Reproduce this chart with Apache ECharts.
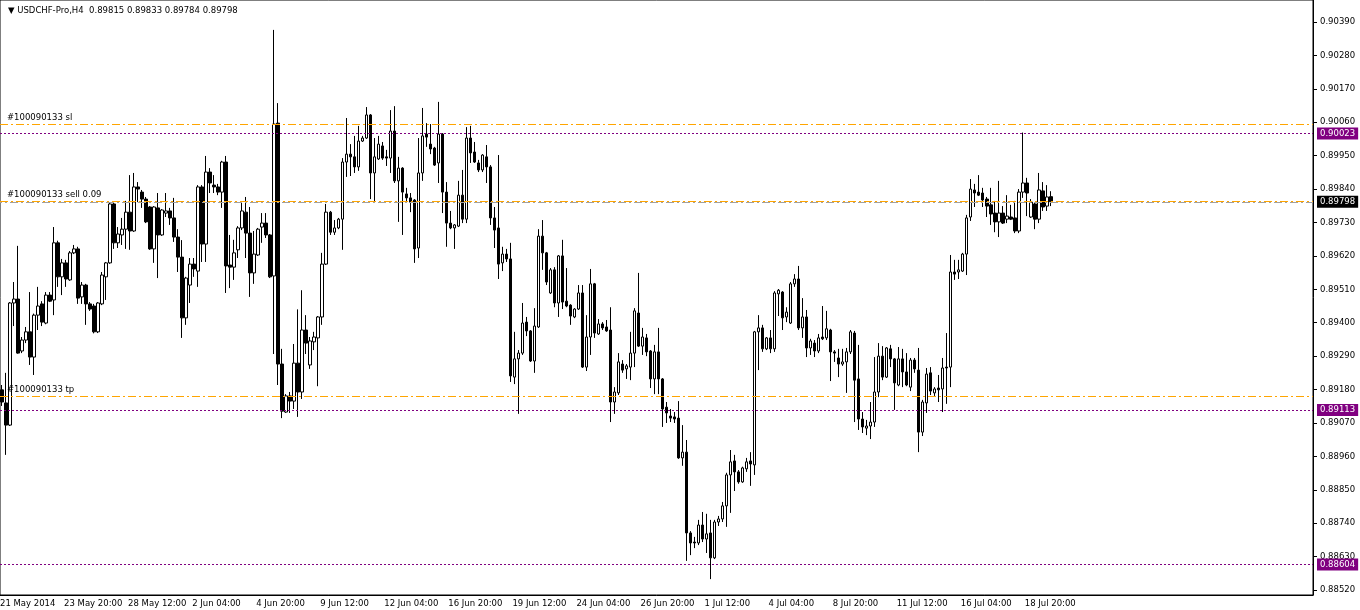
<!DOCTYPE html>
<html><head><meta charset="utf-8">
<script src="https://cdn.jsdelivr.net/npm/echarts@6/dist/echarts.min.js"></script>
<style>html,body{margin:0;padding:0;background:#fff}#c{width:1360px;height:610px}</style>
</head><body><div id="c"></div>
<script>
const symbolName = 'USDCHF-Pro,H4';
const tickLabels = ['21 May 2014','23 May 20:00','28 May 12:00','2 Jun 04:00','4 Jun 20:00','9 Jun 12:00','12 Jun 04:00','16 Jun 20:00','19 Jun 12:00','24 Jun 04:00','26 Jun 20:00','1 Jul 12:00','4 Jul 04:00','8 Jul 20:00','11 Jul 12:00','16 Jul 04:00','18 Jul 20:00'];
const priceTicks = [0.88520,0.88630,0.88740,0.88850,0.88960,0.89070,0.89180,0.89290,0.89400,0.89510,0.89620,0.89730,0.89840,0.89950,0.90060,0.90170,0.90280,0.90390];
// [open, close, low, high]
const candles = [
[0.89179,0.89139,0.89126,0.89195],[0.89136,0.89063,0.88965,0.89235],[0.89063,0.89465,0.89060,0.89468],[0.89465,0.89478,0.89389,0.89534],
[0.89478,0.89300,0.89298,0.89653],[0.89307,0.89343,0.89300,0.89353],[0.89343,0.89370,0.89333,0.89386],[0.89370,0.89287,0.89261,0.89501],
[0.89287,0.89425,0.89228,0.89430],[0.89425,0.89455,0.89376,0.89518],[0.89462,0.89402,0.89389,0.89471],[0.89399,0.89491,0.89395,0.89501],
[0.89491,0.89471,0.89468,0.89501],[0.89475,0.89663,0.89425,0.89715],[0.89663,0.89551,0.89518,0.89670],[0.89551,0.89597,0.89491,0.89610],
[0.89597,0.89544,0.89518,0.89607],[0.89541,0.89630,0.89538,0.89636],[0.89630,0.89643,0.89626,0.89656],[0.89643,0.89481,0.89462,0.89650],
[0.89485,0.89524,0.89462,0.89534],[0.89524,0.89462,0.89393,0.89528],[0.89462,0.89445,0.89439,0.89468],[0.89455,0.89370,0.89365,0.89462],
[0.89370,0.89465,0.89366,0.89468],[0.89462,0.89557,0.89458,0.89567],[0.89551,0.89597,0.89475,0.89600],[0.89597,0.89791,0.89594,0.89797],
[0.89791,0.89663,0.89643,0.89797],[0.89663,0.89692,0.89646,0.89715],[0.89689,0.89708,0.89656,0.89745],[0.89708,0.89764,0.89643,0.89801],
[0.89764,0.89702,0.89640,0.89886],[0.89702,0.89847,0.89699,0.89893],[0.89847,0.89840,0.89797,0.89863],[0.89830,0.89807,0.89778,0.89837],
[0.89807,0.89732,0.89728,0.89814],[0.89781,0.89643,0.89640,0.89784],[0.89643,0.89781,0.89597,0.89784],[0.89778,0.89689,0.89547,0.89827],
[0.89689,0.89771,0.89686,0.89774],[0.89761,0.89768,0.89748,0.89827],[0.89768,0.89745,0.89722,0.89778],[0.89745,0.89682,0.89666,0.89811],
[0.89682,0.89616,0.89567,0.89708],[0.89616,0.89416,0.89350,0.89672],[0.89416,0.89547,0.89393,0.89551],[0.89524,0.89593,0.89465,0.89613],
[0.89593,0.89577,0.89551,0.89613],[0.89570,0.89847,0.89518,0.89853],[0.89847,0.89659,0.89600,0.89853],[0.89659,0.89896,0.89600,0.89949],
[0.89896,0.89860,0.89827,0.89909],[0.89853,0.89847,0.89827,0.89886],[0.89847,0.89830,0.89820,0.89857],[0.89830,0.89929,0.89778,0.89933],
[0.89929,0.89587,0.89498,0.89949],[0.89590,0.89583,0.89514,0.89689],[0.89583,0.89630,0.89541,0.89673],[0.89640,0.89712,0.89613,0.89718],
[0.89712,0.89768,0.89705,0.89797],[0.89764,0.89695,0.89613,0.89814],[0.89695,0.89564,0.89485,0.89781],[0.89564,0.89626,0.89528,0.89702],
[0.89623,0.89708,0.89620,0.89712],[0.89715,0.89728,0.89663,0.89761],[0.89728,0.89689,0.89679,0.89761],[0.89689,0.89551,0.89547,0.89692],
[0.89554,0.90054,0.89297,0.90364],[0.90057,0.89264,0.89195,0.90123],[0.89264,0.89109,0.89086,0.89314],[0.89106,0.89159,0.89103,0.89165],
[0.89159,0.89142,0.89103,0.89172],[0.89142,0.89267,0.89116,0.89330],[0.89267,0.89172,0.89090,0.89444],[0.89172,0.89376,0.89149,0.89507],
[0.89376,0.89333,0.89297,0.89425],[0.89261,0.89340,0.89248,0.89353],[0.89337,0.89353,0.89310,0.89370],[0.89350,0.89419,0.89191,0.89422],
[0.89419,0.89593,0.89393,0.89630],[0.89593,0.89764,0.89590,0.89791],[0.89764,0.89698,0.89689,0.89768],[0.89698,0.89712,0.89689,0.89738],
[0.89712,0.89741,0.89708,0.89745],[0.89741,0.89929,0.89640,0.89942],[0.89929,0.89955,0.89880,0.90074],[0.89955,0.89946,0.89883,0.89988],
[0.89946,0.89913,0.89893,0.90015],[0.89913,0.89998,0.89900,0.90048],[0.89998,0.90008,0.89995,0.90015],[0.90008,0.90084,0.90005,0.90110],
[0.90084,0.89893,0.89807,0.90087],[0.89893,0.89946,0.89797,0.90008],[0.89939,0.89988,0.89936,0.90015],[0.89982,0.89942,0.89936,0.89995],
[0.89946,0.89942,0.89916,0.89969],[0.89942,0.90031,0.89893,0.90100],[0.90031,0.89867,0.89860,0.90113],[0.89867,0.89909,0.89732,0.89946],
[0.89909,0.89830,0.89689,0.89912],[0.89824,0.89811,0.89797,0.89844],[0.89811,0.89797,0.89764,0.89827],[0.89804,0.89643,0.89597,0.89807],
[0.89646,0.89893,0.89613,0.90008],[0.89893,0.90015,0.89867,0.90107],[0.90021,0.90011,0.89979,0.90057],[0.89988,0.89972,0.89955,0.90054],
[0.89975,0.89919,0.89916,0.89979],[0.89926,0.90021,0.89860,0.90127],[0.90021,0.89830,0.89761,0.90024],[0.89830,0.89728,0.89650,0.89863],
[0.89728,0.89712,0.89708,0.89768],[0.89712,0.89722,0.89643,0.89725],[0.89718,0.89820,0.89715,0.89867],[0.89820,0.89741,0.89728,0.89903],
[0.89741,0.90008,0.89728,0.90044],[0.90008,0.89959,0.89926,0.90048],[0.89962,0.89929,0.89926,0.89995],[0.89926,0.89903,0.89896,0.89936],
[0.89903,0.89952,0.89896,0.89955],[0.89946,0.89913,0.89860,0.89985],[0.89913,0.89745,0.89722,0.89919],[0.89745,0.89705,0.89646,0.89781],
[0.89712,0.89593,0.89544,0.89952],[0.89597,0.89626,0.89570,0.89650],[0.89626,0.89610,0.89600,0.89643],[0.89610,0.89225,0.89205,0.89663],
[0.89221,0.89281,0.89198,0.89370],[0.89281,0.89300,0.89100,0.89310],[0.89300,0.89399,0.89294,0.89465],[0.89402,0.89373,0.89356,0.89419],
[0.89373,0.89274,0.89271,0.89376],[0.89274,0.89389,0.89235,0.89448],[0.89386,0.89685,0.89383,0.89708],[0.89685,0.89630,0.89574,0.89738],
[0.89630,0.89534,0.89524,0.89633],[0.89498,0.89574,0.89495,0.89580],[0.89574,0.89465,0.89451,0.89583],[0.89465,0.89620,0.89419,0.89623],
[0.89620,0.89468,0.89445,0.89673],[0.89471,0.89455,0.89451,0.89580],[0.89458,0.89422,0.89393,0.89461],[0.89419,0.89445,0.89415,0.89448],
[0.89445,0.89498,0.89442,0.89524],[0.89498,0.89254,0.89251,0.89524],[0.89254,0.89353,0.89241,0.89425],[0.89353,0.89528,0.89294,0.89577],
[0.89528,0.89366,0.89350,0.89531],[0.89363,0.89396,0.89360,0.89412],[0.89396,0.89383,0.89376,0.89402],[0.89386,0.89373,0.89370,0.89409],
[0.89376,0.89139,0.89073,0.89451],[0.89139,0.89172,0.89100,0.89188],[0.89169,0.89271,0.89162,0.89300],[0.89264,0.89244,0.89235,0.89277],
[0.89248,0.89258,0.89215,0.89264],[0.89254,0.89300,0.89211,0.89370],[0.89300,0.89439,0.89254,0.89448],[0.89432,0.89323,0.89320,0.89564],
[0.89323,0.89353,0.89294,0.89383],[0.89350,0.89304,0.89290,0.89363],[0.89307,0.89215,0.89185,0.89310],[0.89215,0.89304,0.89165,0.89327],
[0.89304,0.89215,0.89165,0.89383],[0.89215,0.89116,0.89057,0.89218],[0.89122,0.89103,0.89070,0.89139],[0.89093,0.89086,0.89073,0.89116],
[0.89090,0.89083,0.89070,0.89106],[0.89086,0.88955,0.88952,0.89142],[0.88955,0.88974,0.88929,0.89063],[0.88974,0.88708,0.88616,0.89014],
[0.88708,0.88675,0.88635,0.88714],[0.88678,0.88675,0.88658,0.88695],[0.88675,0.88734,0.88668,0.88751],[0.88734,0.88688,0.88678,0.88777],
[0.88688,0.88705,0.88642,0.88771],[0.88708,0.88626,0.88556,0.88751],[0.88626,0.88744,0.88622,0.88751],[0.88744,0.88754,0.88731,0.88764],
[0.88754,0.88797,0.88744,0.88810],[0.88797,0.88899,0.88728,0.88906],[0.88899,0.88942,0.88774,0.88981],[0.88945,0.88909,0.88846,0.88965],
[0.88909,0.88876,0.88870,0.88915],[0.88876,0.88922,0.88873,0.88926],[0.88919,0.88942,0.88909,0.88955],[0.88945,0.88935,0.88863,0.88974],
[0.88932,0.89370,0.88899,0.89373],[0.89370,0.89383,0.89244,0.89425],[0.89383,0.89314,0.89304,0.89393],[0.89314,0.89350,0.89310,0.89353],
[0.89350,0.89314,0.89300,0.89376],[0.89314,0.89498,0.89304,0.89504],[0.89495,0.89507,0.89422,0.89511],[0.89501,0.89416,0.89376,0.89504],
[0.89419,0.89435,0.89402,0.89451],[0.89399,0.89528,0.89396,0.89534],[0.89528,0.89544,0.89518,0.89560],[0.89544,0.89383,0.89376,0.89587],
[0.89383,0.89419,0.89350,0.89481],[0.89419,0.89317,0.89287,0.89442],[0.89317,0.89340,0.89294,0.89347],[0.89333,0.89307,0.89287,0.89343],
[0.89307,0.89350,0.89300,0.89363],[0.89353,0.89347,0.89343,0.89455],[0.89350,0.89380,0.89343,0.89439],[0.89376,0.89304,0.89208,0.89380],
[0.89304,0.89300,0.89271,0.89310],[0.89284,0.89264,0.89221,0.89314],[0.89264,0.89271,0.89258,0.89314],[0.89271,0.89304,0.89169,0.89317],
[0.89304,0.89370,0.89297,0.89376],[0.89366,0.89211,0.89073,0.89373],[0.89215,0.89083,0.89047,0.89327],[0.89083,0.89057,0.89037,0.89106],
[0.89053,0.89060,0.89030,0.89080],[0.89060,0.89073,0.89017,0.89139],[0.89073,0.89172,0.89057,0.89287],[0.89172,0.89290,0.89155,0.89333],
[0.89290,0.89221,0.89211,0.89323],[0.89221,0.89317,0.89218,0.89320],[0.89314,0.89281,0.89254,0.89327],[0.89281,0.89202,0.89113,0.89284],
[0.89195,0.89281,0.89191,0.89320],[0.89281,0.89238,0.89188,0.89314],[0.89238,0.89195,0.89191,0.89300],[0.89188,0.89277,0.89175,0.89284],
[0.89277,0.89248,0.89235,0.89284],[0.89244,0.89040,0.88974,0.89317],[0.89040,0.89139,0.89027,0.89146],[0.89136,0.89231,0.89103,0.89251],
[0.89235,0.89175,0.89162,0.89254],[0.89169,0.89182,0.89159,0.89188],[0.89185,0.89179,0.89139,0.89228],[0.89182,0.89251,0.89106,0.89284],
[0.89254,0.89251,0.89133,0.89366],[0.89254,0.89567,0.89188,0.89623],[0.89567,0.89560,0.89541,0.89607],[0.89567,0.89574,0.89544,0.89607],
[0.89570,0.89626,0.89567,0.89630],[0.89626,0.89745,0.89557,0.89755],[0.89748,0.89840,0.89735,0.89873],[0.89837,0.89827,0.89781,0.89857],
[0.89830,0.89820,0.89817,0.89886],[0.89827,0.89804,0.89781,0.89844],[0.89807,0.89784,0.89748,0.89814],[0.89788,0.89758,0.89722,0.89844],
[0.89761,0.89732,0.89698,0.89801],[0.89732,0.89761,0.89682,0.89867],[0.89761,0.89728,0.89725,0.89784],[0.89741,0.89751,0.89728,0.89820],
[0.89748,0.89741,0.89738,0.89788],[0.89745,0.89702,0.89695,0.89801],[0.89702,0.89830,0.89695,0.89840],[0.89830,0.89860,0.89811,0.90026],
[0.89860,0.89827,0.89751,0.89877],[0.89748,0.89797,0.89745,0.89807],[0.89791,0.89741,0.89708,0.89797],[0.89741,0.89837,0.89728,0.89893],
[0.89834,0.89781,0.89768,0.89863],[0.89784,0.89814,0.89768,0.89853],[0.89815,0.89798,0.89784,0.89833]
];
const orderLines = [
  {name: '#100090133 sl', price: 0.90054},
  {name: '#100090133 sell 0.09', price: 0.89800},
  {name: '#100090133 tp', price: 0.89159}
];
const levelLines = [0.90023, 0.89113, 0.88604];

const totalSlots = 328;
const categories = Array.from({length: totalSlots}, (_, i) => String(i));
const last = candles[candles.length - 1];
const bid = last[1];
const FONT = 'DejaVu Sans';
const FS = 8.5;
const showTick = (i) => i % 16 === 0 && i / 16 < tickLabels.length;

const markData = [];
markData.push({
  yAxis: bid,
  lineStyle: {color: '#A0A0A0', type: [8, 3, 2, 3], dashOffset: 6, width: 1},
  label: {show: true, position: 'end', formatter: bid.toFixed(5), color: '#fff', backgroundColor: '#000', fontFamily: FONT, fontSize: FS, padding: [2, 3, 1, 3], distance: 4}
});
levelLines.forEach(v => markData.push({
  yAxis: v,
  lineStyle: {color: '#800080', type: [2, 2], width: 1},
  label: {show: true, position: 'end', formatter: v.toFixed(5), color: '#fff', backgroundColor: '#800080', fontFamily: FONT, fontSize: FS, padding: [2, 3, 1, 3], distance: 4}
}));
orderLines.forEach(l => markData.push({
  yAxis: l.price,
  lineStyle: {color: '#FFA500', type: [8, 3, 2, 3], width: 1},
  label: {show: true, position: 'insideStartTop', formatter: l.name, color: '#000', fontFamily: FONT, fontSize: FS, padding: [0, 0, 0, 5], distance: 2}
}));

const chart = echarts.init(document.getElementById('c'), null, {renderer: 'canvas'});
chart.setOption({
  animation: false,
  backgroundColor: '#fff',
  title: {
    text: '\u25BC ' + symbolName + '  ' + [last[0], last[3], last[2], last[1]].map(v => v.toFixed(5)).join(' '),
    left: 3, top: 1,
    textStyle: {fontFamily: FONT, fontSize: FS, fontWeight: 'normal', color: '#000'}
  },
  grid: {left: 0, right: 47, top: 0, bottom: 15, outerBoundsMode: 'none', containLabel: false, show: true, borderColor: '#000', borderWidth: 1, backgroundColor: '#fff'},
  xAxis: {
    type: 'category', data: categories, boundaryGap: true,
    axisLine: {lineStyle: {color: '#000', width: 1}},
    axisTick: {interval: showTick, length: 4, lineStyle: {color: '#000'}},
    axisLabel: {interval: showTick, formatter: (v, i) => tickLabels[i / 16] || '', align: 'left', margin: 4, padding: [0, 0, 0, -2], color: '#000', fontFamily: FONT, fontSize: FS},
    splitLine: {show: false}
  },
  yAxis: {
    type: 'value', position: 'right', min: 0.885037, max: 0.904624, scale: true,
    axisLine: {show: true, lineStyle: {color: '#000', width: 1}},
    axisTick: {show: true, customValues: priceTicks, length: 4, lineStyle: {color: '#000'}},
    axisLabel: {customValues: priceTicks, formatter: v => v.toFixed(5), margin: 7, color: '#000', fontFamily: FONT, fontSize: FS},
    splitLine: {show: false}
  },
  series: [{
    type: 'line',
    data: [],
    silent: true,
    z: 1,
    markLine: {symbol: ['none', 'none'], precision: 5, silent: true, animation: false, data: markData}
  }, {
    type: 'candlestick',
    data: candles,
    barWidth: 3,
    z: 3,
    itemStyle: {color: '#fff', color0: '#000', borderColor: '#000', borderColor0: '#000', borderWidth: 1}
  }]
});
</script></body></html>
